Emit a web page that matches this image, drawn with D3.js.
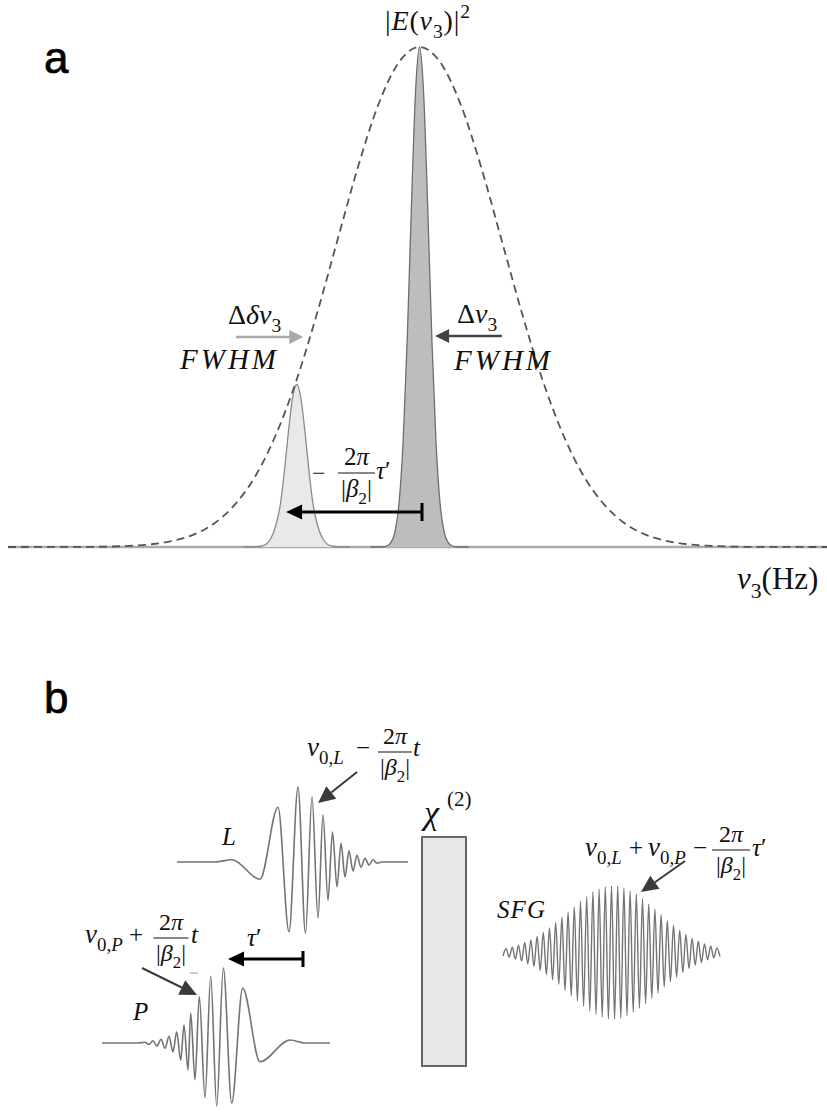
<!DOCTYPE html>
<html>
<head>
<meta charset="utf-8">
<script src="https://cdn.jsdelivr.net/npm/d3@7"></script>
<style>
  body { margin: 0; background: #fff; }
  svg { display: block; }
  text { font-family: "Liberation Serif", "DejaVu Serif", serif; fill: #111; }
</style>
</head>
<body>
<svg id="fig" width="827" height="1119"></svg>
<script>
// ---------------- panel a : spectra (relative frequency ν, normalised |E|²) ----------------
// broadband envelope |E(ν3)|²
const envelope = [[-100.5,0],[-80,0.0004],[-70,0.0026],[-65,0.006],[-60,0.0127],[-55,0.0254],
  [-50,0.048],[-45,0.0857],[-40,0.143],[-35,0.226],[-30,0.335],[-25,0.468],[-20,0.615],
  [-15,0.761],[-10,0.886],[-5,0.970],[0,1],[5,0.970],[10,0.886],[15,0.761],[20,0.615],
  [25,0.468],[30,0.335],[35,0.226],[40,0.143],[45,0.0857],[50,0.048],[55,0.0254],
  [60,0.0127],[65,0.006],[70,0.0026],[80,0.0004],[99.5,0]];
// narrow SFG line at the envelope centre (Δν3)
const mainLine = [[-12,0],[-9,0.0004],[-8,0.002],[-7,0.0086],[-6,0.0303],[-5,0.0883],[-4,0.212],
  [-3,0.417],[-2,0.678],[-1,0.907],[0,1],[1,0.907],[2,0.678],[3,0.417],[4,0.212],[5,0.0883],
  [6,0.0303],[7,0.0086],[8,0.002],[9,0.0004],[12,0]];
// shifted line (Δδν3)
const shiftedLine = [[-43,0],[-40,0.0004],[-38.8,0.0015],[-37.6,0.005],[-36.4,0.016],[-35.2,0.040],
  [-34,0.085],[-33,0.152],[-32,0.232],[-31,0.299],[-30,0.325],[-29,0.299],[-28,0.232],
  [-27,0.152],[-26,0.085],[-24.8,0.040],[-23.6,0.016],[-22.4,0.005],[-21.2,0.0015],[-20,0.0004],[-17,0]];
// annotation arrows in (ν, level) units
const shiftArrow = { from: 0.6, to: -32.6, level: 0.07 };
const fwhmArrowMain = { from: 20.1, to: 3.8, level: 0.422 };
const fwhmArrowShift = { from: -44.8, to: -28.4, level: 0.42 };

// ---------------- panel b : pulses (time offset, normalised field) ----------------
// L pulse: extrema of the chirped field
const pulseL = [[0,0],[38,0],[55,0.03],[83,-0.23],[101,0.73],[112,-0.93],[121,1.0],[128.5,-0.95],
  [135,0.87],[141,-0.75],[146,0.63],[151,-0.51],[155.5,0.40],[160,-0.33],[164,0.25],[168,-0.20],
  [172,0.15],[176,-0.12],[180,0.09],[184,-0.07],[188,0.05],[192,-0.04],[196,0.03],[200,-0.015],
  [205,0],[231,0]];
// P pulse: extrema of the chirped field
const pulseP = [[0,0],[36,0],[43,0.01],[47,-0.02],[51,0.03],[55,-0.04],[59,0.05],[63,-0.07],
  [67,0.09],[71,-0.12],[74.7,0.15],[78.7,-0.23],[82,0.24],[86,-0.36],[88.7,0.40],[93,-0.49],
  [97.3,0.62],[103,-0.73],[108.7,0.89],[114.7,-0.84],[121.3,1.0],[129.7,-0.80],[140.7,0.73],
  [158,-0.25],[188,0.04],[203,0],[228,0]];
// SFG pulse: successive half-cycle extrema
const pulseSFG = [-0.05,0.06,-0.07,0.08,-0.10,0.11,-0.13,0.15,-0.17,0.19,-0.21,0.24,-0.27,0.30,
  -0.33,0.37,-0.41,0.45,-0.48,0.53,-0.57,0.61,-0.65,0.69,-0.73,0.77,-0.81,0.84,-0.88,0.91,-0.93,
  0.95,-0.97,0.99,-1.00,1.00,-1.00,1.00,-0.99,0.97,-0.95,0.93,-0.90,0.88,-0.84,0.81,-0.77,0.73,
  -0.69,0.65,-0.61,0.57,-0.52,0.48,-0.44,0.41,-0.37,0.33,-0.30,0.27,-0.24,0.21,-0.19,0.17,-0.15,
  0.13,-0.11,0.10,-0.08,0.07,-0.06];

const svg = d3.select("#fig");

// ---------- helpers ----------
function mathText(g, x, y, size, parts, len) {
  const t = g.append("text").attr("x", x).attr("y", y).attr("font-size", size);
  let shift = 0;
  parts.forEach(([s, kind]) => {
    let target = 0, fs = size;
    if (kind === "sub" || kind === "subi") { target = size * 0.28; fs = size * 0.7; }
    if (kind === "sup") { target = -size * 0.42; fs = size * 0.7; }
    t.append("tspan").text(s)
      .attr("dy", target - shift)
      .attr("font-size", fs)
      .attr("font-style", (kind === "i" || kind === "subi") ? "italic" : "normal");
    shift = target;
  });
  if (len) t.attr("textLength", len).attr("lengthAdjust", "spacing");
  return t;
}
function frac(g, cx, barY, halfW, size, num, den) {
  mathText(g, cx, barY - 8, size, num).attr("text-anchor", "middle");
  g.append("line").attr("x1", cx - halfW).attr("x2", cx + halfW)
    .attr("y1", barY).attr("y2", barY).attr("stroke", "#111").attr("stroke-width", 1.2);
  mathText(g, cx, barY + size * 0.95, size, den).attr("text-anchor", "middle");
}
function arrow(g, x1, y1, x2, y2, color, width, headLen, headHalf) {
  const ang = Math.atan2(y2 - y1, x2 - x1);
  const bx = x2 - headLen * Math.cos(ang), by = y2 - headLen * Math.sin(ang);
  g.append("line").attr("x1", x1).attr("y1", y1).attr("x2", bx).attr("y2", by)
    .attr("stroke", color).attr("stroke-width", width);
  const px = -Math.sin(ang) * headHalf, py = Math.cos(ang) * headHalf;
  g.append("path")
    .attr("d", `M${x2},${y2}L${bx + px},${by + py}L${bx - px},${by - py}Z`)
    .attr("fill", color);
}
const betaDen = [["|", "r"], ["β", "i"], ["2", "sub"], ["|", "r"]];
const panelLetter = (g, x, y, s) => g.append("text").attr("x", x).attr("y", y)
  .attr("font-size", 44).attr("stroke", "#000").attr("stroke-width", 0.7)
  .style("font-family", "'Liberation Sans', Arial, sans-serif").style("fill", "#000").text(s);

// ---------- panel a ----------
const ga = svg.append("g");
const xA = d3.scaleLinear().domain([-100.5, 99.5]).range([8, 827]);
const yA = d3.scaleLinear().domain([0, 1]).range([547, 47]);
const lineA = d3.line().x(d => xA(d[0])).y(d => yA(d[1])).curve(d3.curveMonotoneX);
const areaA = d3.area().x(d => xA(d[0])).y0(yA(0)).y1(d => yA(d[1])).curve(d3.curveMonotoneX);

ga.append("line").attr("x1", xA(-100.5)).attr("x2", xA(99.5))
  .attr("y1", yA(0)).attr("y2", yA(0)).attr("stroke", "#ababab").attr("stroke-width", 2.5);

ga.append("path").datum(shiftedLine).attr("d", areaA).attr("fill", "#e9e9e9");
ga.append("path").datum(shiftedLine).attr("d", lineA).attr("fill", "none")
  .attr("stroke", "#8a8a8a").attr("stroke-width", 1.3);
ga.append("path").datum(mainLine).attr("d", areaA).attr("fill", "#bdbdbd");
ga.append("path").datum(mainLine).attr("d", lineA).attr("fill", "none")
  .attr("stroke", "#6e6e6e").attr("stroke-width", 1.3);

ga.append("path").datum(envelope).attr("d", lineA).attr("fill", "none")
  .attr("stroke", "#555").attr("stroke-width", 1.8).attr("stroke-dasharray", "8,5");

// shift arrow  −2π/|β2| τ'
arrow(ga, xA(shiftArrow.from), yA(shiftArrow.level), xA(shiftArrow.to), yA(shiftArrow.level),
  "#000", 3, 16, 7.5);
ga.append("line").attr("x1", xA(shiftArrow.from)).attr("x2", xA(shiftArrow.from))
  .attr("y1", yA(shiftArrow.level) - 9).attr("y2", yA(shiftArrow.level) + 9)
  .attr("stroke", "#000").attr("stroke-width", 3);

// FWHM arrows
arrow(ga, xA(fwhmArrowShift.from), yA(fwhmArrowShift.level), xA(fwhmArrowShift.to),
  yA(fwhmArrowShift.level), "#a8a8a8", 2.4, 14, 7);
arrow(ga, xA(fwhmArrowMain.from), yA(fwhmArrowMain.level), xA(fwhmArrowMain.to),
  yA(fwhmArrowMain.level), "#444", 2.4, 14, 7);

// labels
panelLetter(ga, 44, 73, "a");
mathText(ga, 385, 30, 28, [["|", "r"], ["E", "i"], ["(", "r"], ["ν", "i"], ["3", "sub"],
  [")", "r"], ["|", "r"], ["2", "sup"]], 85);
mathText(ga, 228, 324, 28, [["Δ", "r"], ["δν", "i"], ["3", "sub"]]);
mathText(ga, 180, 369, 29, [["FWHM", "i"]], 96);
mathText(ga, 457, 323, 28, [["Δ", "r"], ["ν", "i"], ["3", "sub"]]);
mathText(ga, 454, 370, 29, [["FWHM", "i"]], 96);
mathText(ga, 312, 481, 24, [["−", "r"]]);
frac(ga, 356.5, 473, 18.5, 25, [["2", "r"], ["π", "i"]], betaDen);
mathText(ga, 376, 479, 25, [["τ", "i"], ["′", "r"]]);
mathText(ga, 737, 589, 31, [["ν", "i"], ["3", "sub"], ["(Hz)", "r"]]);

// ---------- panel b ----------
const gb = svg.append("g");
panelLetter(gb, 44, 713, "b");

const waveStroke = "#747474";
// L pulse
const xL = d3.scaleLinear().domain([0, 231]).range([177, 408]);
const yL = d3.scaleLinear().domain([-1, 1]).range([937, 787]);
gb.append("path").datum(pulseL)
  .attr("d", d3.line().x(d => xL(d[0])).y(d => yL(d[1])).curve(d3.curveMonotoneX))
  .attr("fill", "none").attr("stroke", waveStroke).attr("stroke-width", 1.6);
// P pulse
const xP = d3.scaleLinear().domain([0, 228]).range([102, 330]);
const yP = d3.scaleLinear().domain([-1, 1]).range([1118, 968]);
gb.append("path").datum(pulseP)
  .attr("d", d3.line().x(d => xP(d[0])).y(d => yP(d[1])).curve(d3.curveMonotoneX))
  .attr("fill", "none").attr("stroke", waveStroke).attr("stroke-width", 1.6);
// SFG pulse
const xS = d3.scaleLinear().domain([0, pulseSFG.length - 1]).range([503, 720]);
const yS = d3.scaleLinear().domain([-1, 1]).range([1019, 886]);
gb.append("path").datum(pulseSFG)
  .attr("d", d3.line().x((d, i) => xS(i)).y(d => yS(d)).curve(d3.curveMonotoneX))
  .attr("fill", "none").attr("stroke", waveStroke).attr("stroke-width", 1.4);

// nonlinear crystal
gb.append("rect").attr("x", 422).attr("y", 837).attr("width", 44).attr("height", 229)
  .attr("fill", "#e8e8e8").attr("stroke", "#666").attr("stroke-width", 2);
mathText(gb, 424, 824, 34, [["χ", "i"]]);
mathText(gb, 447, 806, 21, [["(2)", "r"]]);

// labels
mathText(gb, 222, 845, 25, [["L", "i"]]);
mathText(gb, 133, 1020, 25, [["P", "i"]]);
mathText(gb, 497, 918, 25, [["SFG", "i"]], 48);

// L frequency label
mathText(gb, 307, 756, 27, [["ν", "i"], ["0,", "sub"], ["L", "subi"]]);
mathText(gb, 356, 756, 25, [["−", "r"]]);
frac(gb, 395, 752, 17, 24, [["2", "r"], ["π", "i"]], betaDen);
mathText(gb, 413, 756, 25, [["t", "i"]]);
arrow(gb, 357, 772, 318, 803, "#3a3a3a", 2, 17, 8);

// P frequency label
mathText(gb, 85, 943, 27, [["ν", "i"], ["0,", "sub"], ["P", "subi"]]);
mathText(gb, 129, 943, 25, [["+", "r"]]);
frac(gb, 171, 938, 17.5, 24, [["2", "r"], ["π", "i"]], betaDen);
mathText(gb, 191, 943, 25, [["t", "i"]]);
arrow(gb, 142, 968, 197, 995, "#3a3a3a", 2, 17, 8);
gb.append("line").attr("x1", 190).attr("x2", 198).attr("y1", 973).attr("y2", 973)
  .attr("stroke", "#999").attr("stroke-width", 1);

// delay τ'
arrow(gb, 303, 959, 228, 959, "#000", 3, 16, 7.5);
gb.append("line").attr("x1", 303).attr("x2", 303).attr("y1", 951).attr("y2", 967)
  .attr("stroke", "#000").attr("stroke-width", 3);
mathText(gb, 247, 946, 25, [["τ", "i"], ["′", "r"]]);

// SFG frequency label
mathText(gb, 585, 856, 27, [["ν", "i"], ["0,", "sub"], ["L", "subi"]]);
mathText(gb, 629, 856, 25, [["+", "r"]]);
mathText(gb, 648, 856, 27, [["ν", "i"], ["0,", "sub"], ["P", "subi"]]);
mathText(gb, 693, 856, 25, [["−", "r"]]);
frac(gb, 731, 850, 19, 24, [["2", "r"], ["π", "i"]], betaDen);
mathText(gb, 752, 856, 25, [["τ", "i"], ["′", "r"]]);
arrow(gb, 685, 861, 641, 892, "#3a3a3a", 2, 17, 8);
</script>
</body>
</html>
